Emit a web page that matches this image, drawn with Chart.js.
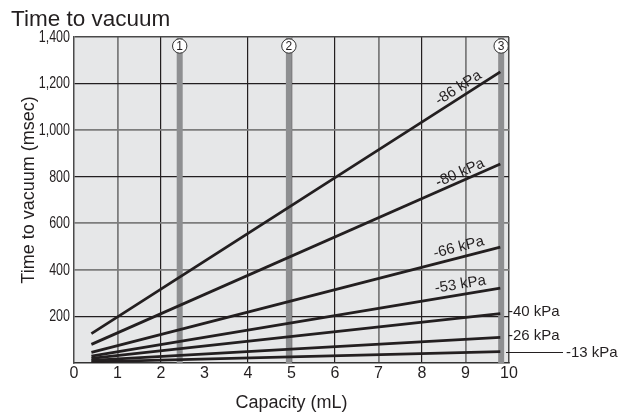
<!DOCTYPE html>
<html>
<head>
<meta charset="utf-8">
<script src="https://cdn.jsdelivr.net/npm/chart.js@4.4.1/dist/chart.umd.min.js"></script>
<style>
  html, body { margin: 0; padding: 0; background: #fff; }
</style>
</head>
<body>
<canvas id="chart" width="638" height="416"></canvas>
<script>
// values
const pressures = ['-86 kPa', '-80 kPa', '-66 kPa', '-53 kPa', '-40 kPa', '-26 kPa', '-13 kPa'];
const capacityStart = 0.4;   // mL, where every line starts
const capacityEnd = 9.8;     // mL, where every line ends
const timeAtStart = [126, 80, 46, 30, 20, 11, 5];        // msec
const timeAtEnd = [1250, 855, 498, 322, 212, 110, 49];   // msec
const markerCapacity = [2.43, 4.94, 9.82];
const markerLabels = ['1', '2', '3'];
const xTicks = [0, 1, 2, 3, 4, 5, 6, 7, 8, 9, 10];
const yTicks = [0, 200, 400, 600, 800, 1000, 1200, 1400];

const INK = '#231f20';
const GRID_DARK = '#231f20';
const GRID_GRAY = '#7d7d7d';
const EDGE = '#4a4a4a';
const SANS = "'Liberation Sans', Arial, Helvetica, sans-serif";

// which grid lines are drawn dark, which gray
const darkX = [2, 4, 5, 6, 8];
const grayX = [1, 7, 9];
const darkY = [200, 800, 1200];
const grayY = [400, 600, 1000];

function gridColor(value, dark, gray, max) {
  if (value === max) return EDGE;
  if (dark.includes(value)) return GRID_DARK;
  if (gray.includes(value)) return GRID_GRAY;
  return 'rgba(0,0,0,0)';
}
function gridWidth(value, dark, max) {
  if (value === max) return 1.5;
  return dark.includes(value) ? 1.2 : 1.8;
}

const pressureSets = pressures.map((p, i) => ({
  label: p,
  data: [{ x: capacityStart, y: timeAtStart[i] }, { x: capacityEnd, y: timeAtEnd[i] }],
  showLine: true,
  borderColor: INK,
  borderWidth: 2.8,
  pointRadius: 0,
  order: 1
}));

const markerSets = markerCapacity.map((c, i) => ({
  label: 'marker ' + markerLabels[i],
  data: [{ x: c, y: 0 }, { x: c, y: 1400 }],
  showLine: true,
  borderColor: '#8e8f91',
  borderWidth: 6,
  pointRadius: 0,
  order: 2
}));

const plotBg = {
  id: 'plotBg',
  beforeDraw(chart) {
    const { ctx, chartArea: a } = chart;
    ctx.save();
    ctx.fillStyle = '#e6e7e8';
    ctx.fillRect(a.left, a.top, a.right - a.left, a.bottom - a.top);
    ctx.restore();
  }
};

// how each pressure label is placed: along the line, beside its end, or with a leader
const labelStyle = [
  { kind: 'slope', at: 8.95, off: 9 },
  { kind: 'slope', at: 8.95, off: 8 },
  { kind: 'slope', at: 8.9, off: 10 },
  { kind: 'slope', at: 8.92, off: 10 },
  { kind: 'end' },
  { kind: 'end' },
  { kind: 'leader' }
];

const annotations = {
  id: 'annotations',
  afterDraw(chart) {
    const { ctx, chartArea: a } = chart;
    const xs = chart.scales.x, ys = chart.scales.y;
    ctx.save();
    ctx.fillStyle = INK;
    ctx.strokeStyle = INK;

    // y tick labels, condensed like the original
    ctx.font = '16px ' + SANS;
    ctx.textAlign = 'right';
    ctx.textBaseline = 'middle';
    yTicks.forEach(v => {
      if (v === 0) return;
      ctx.save();
      ctx.translate(a.left - 4, ys.getPixelForValue(v) + 0.5);
      ctx.scale(0.78, 1);
      ctx.fillText(v.toLocaleString('en-US'), 0, 0);
      ctx.restore();
    });

    // titles
    ctx.font = '22.5px ' + SANS;
    ctx.textAlign = 'left';
    ctx.textBaseline = 'alphabetic';
    ctx.fillText('Time to vacuum', 11, 26);

    ctx.font = '18px ' + SANS;
    ctx.textAlign = 'center';
    ctx.fillText('Capacity (mL)', (a.left + a.right) / 2, 408);
    ctx.save();
    ctx.translate(34, (a.top + a.bottom) / 2 - 10);
    ctx.rotate(-Math.PI / 2);
    ctx.fillText('Time to vacuum (msec)', 0, 0);
    ctx.restore();

    // circled marker numbers
    markerCapacity.forEach((c, i) => {
      const x = xs.getPixelForValue(c);
      const y = a.top + 9;
      ctx.beginPath();
      ctx.arc(x, y, 7.2, 0, Math.PI * 2);
      ctx.fillStyle = '#fff';
      ctx.fill();
      ctx.lineWidth = 1;
      ctx.strokeStyle = '#333';
      ctx.stroke();
      ctx.fillStyle = INK;
      ctx.font = '12px ' + SANS;
      ctx.textAlign = 'center';
      ctx.textBaseline = 'middle';
      ctx.fillText(markerLabels[i], x, y + 0.5);
    });

    // pressure labels
    ctx.font = '15px ' + SANS;
    ctx.textBaseline = 'middle';
    pressures.forEach((p, i) => {
      const s = labelStyle[i];
      const x0 = xs.getPixelForValue(capacityStart), y0 = ys.getPixelForValue(timeAtStart[i]);
      const x1 = xs.getPixelForValue(capacityEnd), y1 = ys.getPixelForValue(timeAtEnd[i]);
      if (s.kind === 'slope') {
        const t = (s.at - capacityStart) / (capacityEnd - capacityStart);
        const px = x0 + t * (x1 - x0), py = y0 + t * (y1 - y0);
        ctx.save();
        ctx.translate(px, py);
        ctx.rotate(Math.atan2(y1 - y0, x1 - x0));
        ctx.textAlign = 'center';
        ctx.fillText(p, 0, -s.off);
        ctx.restore();
      } else if (s.kind === 'end') {
        ctx.textAlign = 'left';
        ctx.fillText(p, a.right - 1, y1 - 1.5);
      } else {
        ctx.beginPath();
        ctx.lineWidth = 1;
        ctx.strokeStyle = INK;
        ctx.moveTo(a.right - 3, Math.round(y1) + 0.5);
        ctx.lineTo(a.right + 54, Math.round(y1) + 0.5);
        ctx.stroke();
        ctx.textAlign = 'left';
        ctx.fillText(p, a.right + 57, y1 + 1.5);
      }
    });
    ctx.restore();
  }
};

new Chart(document.getElementById('chart'), {
  type: 'scatter',
  data: { datasets: [...pressureSets, ...markerSets] },
  plugins: [plotBg, annotations],
  options: {
    responsive: false,
    animation: false,
    events: [],
    layout: { padding: { left: 0, right: 129, top: 37, bottom: 0 } },
    plugins: { legend: { display: false }, tooltip: { enabled: false } },
    scales: {
      x: {
        type: 'linear',
        min: 0,
        max: 10,
        afterFit(scale) { scale.height = 53; },
        afterBuildTicks(scale) { scale.ticks = xTicks.map(v => ({ value: v })); },
        grid: {
          drawTicks: false,
          color: c => gridColor(c.tick.value, darkX, grayX, 10),
          lineWidth: c => gridWidth(c.tick.value, darkX, 10)
        },
        border: { display: true, color: '#333', width: 1.5 },
        ticks: {
          padding: 1,
          color: INK,
          font: { family: SANS, size: 16 },
          maxRotation: 0,
          autoSkip: false
        }
      },
      y: {
        type: 'linear',
        min: 0,
        max: 1400,
        afterFit(scale) { scale.width = 74; },
        afterBuildTicks(scale) { scale.ticks = yTicks.map(v => ({ value: v })); },
        grid: {
          drawTicks: false,
          color: c => gridColor(c.tick.value, darkY, grayY, 1400),
          lineWidth: c => gridWidth(c.tick.value, darkY, 1400)
        },
        border: { display: true, color: EDGE, width: 1.5 },
        ticks: { display: false }
      }
    }
  }
});
</script>
</body>
</html>
